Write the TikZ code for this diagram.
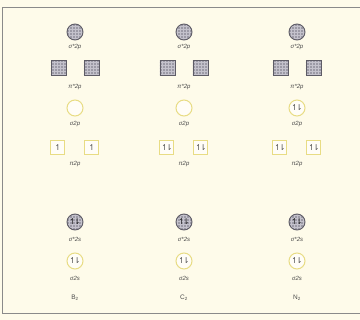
\documentclass[tikz,border=0pt]{standalone}
\usepackage{fontspec}
\setmainfont{Liberation Sans}
\newfontfamily\arrowfont{DejaVu Sans}
\usetikzlibrary{patterns}
\definecolor{mocream}{HTML}{FEFBEA}
\definecolor{mogray}{HTML}{9C9AA6}
\definecolor{mogrid}{HTML}{C4C2CC}
\definecolor{moedge}{HTML}{5E5C66}
\definecolor{moyel}{HTML}{E8DC84}
\definecolor{motext}{HTML}{4A4A4A}
\definecolor{moframe}{HTML}{8A8A8A}
\newcommand{\eup}{{\arrowfont ↿}}
\newcommand{\epair}{{\arrowfont ↿\kern-.28em⇂}}

\begin{document}
\begin{tikzpicture}[x=1pt, y=-1pt, font=\fontsize{6}{7}\selectfont,
      ab/.style={circle, draw=moedge, line width=.9pt, preaction={fill=mogray}, pattern=grid, pattern color=mogrid, minimum size=16pt, inner sep=0pt, text=black!90, font=\fontsize{8}{8}\selectfont},
      abx/.style={draw=moedge, line width=.9pt, preaction={fill=mogray}, pattern=grid, pattern color=mogrid, minimum size=15pt, inner sep=0pt},
      bd/.style={circle, draw=moyel, line width=1pt, fill=white!60!mocream, minimum size=16pt, inner sep=0pt, text=motext, font=\fontsize{8}{8}\selectfont},
      bx/.style={draw=moyel, line width=1pt, fill=white!60!mocream, minimum size=14pt, inner sep=0pt, text=motext, font=\fontsize{8}{8}\selectfont},
      lb/.style={text=motext, font=\fontsize{6}{7}\selectfont\itshape, inner sep=0pt},
      mo/.style={text=motext, font=\fontsize{6.5}{7}\selectfont, inner sep=0pt}]
      \fill[mocream] (0,0) rectangle (360,320);
      \useasboundingbox (0,0) rectangle (360,320);
      \draw[moframe, line width=1pt] (362,8) -- (3,8) -- (3,314) -- (362,314);

      \foreach \x/\m/\sp/\pp/\mol in {75/b/{}/\eup/B, 184/c/{}/\epair/C, 297/n/\epair/\epair/N} {
        % 2p levels
        \node[ab] (sa2p\m) at (\x,32) {};
        \node[lb] (lsa2p\m) at (\x,47) {σ*2p};
        \node[abx] (pa2pl\m) at (\x-16.5,68) {};
        \node[abx] (pa2pr\m) at (\x+16.5,68) {};
        \node[lb] (lpa2p\m) at (\x,87) {π*2p};
        \node[bd] (s2p\m) at (\x,108) {\sp};
        \node[lb] (ls2p\m) at (\x,124) {σ2p};
        \node[bx] (p2pl\m) at (\x-17,148) {\pp};
        \node[bx] (p2pr\m) at (\x+17,148) {\pp};
        \node[lb] (lp2p\m) at (\x,164) {π2p};
        % 2s levels
        \node[ab] (sa2s\m) at (\x,222) {\epair};
        \node[lb] (lsa2s\m) at (\x,239) {σ*2s};
        \node[bd] (s2s\m) at (\x,261) {\epair};
        \node[lb] (ls2s\m) at (\x,278) {σ2s};
        \node[mo] (mol\m) at (\x,298) {\mol\textsubscript{2}};
      }
    \end{tikzpicture}
\end{document}
